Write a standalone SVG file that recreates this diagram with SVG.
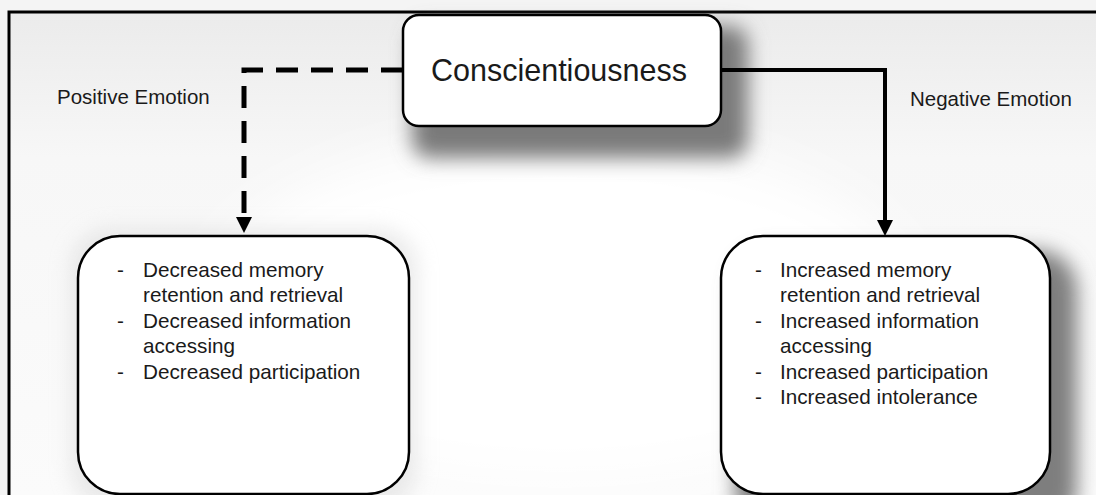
<svg xmlns="http://www.w3.org/2000/svg" width="1096" height="495" viewBox="0 0 1096 495">
  <defs>
    <style>
      .t { font-family: "Liberation Sans", Arial, sans-serif; fill: #1a1a1a; }
      .lbl { font-size: 20.5px; }
      .item { font-size: 20.7px; }
      .box { fill: #ffffff; stroke: #000000; stroke-width: 2.5; }
      .conn { fill: none; stroke: #000000; }
    </style>
    <filter id="blur10" x="-30%" y="-30%" width="160%" height="160%">
      <feGaussianBlur stdDeviation="10"/>
    </filter>
    <filter id="blur25" x="-50%" y="-50%" width="200%" height="200%">
      <feGaussianBlur stdDeviation="25"/>
    </filter>
    <linearGradient id="bg" x1="0" y1="0" x2="0" y2="1">
      <stop offset="0" stop-color="#ebebeb"/>
      <stop offset="0.3" stop-color="#f7f7f7"/>
      <stop offset="1" stop-color="#fbfbfb"/>
    </linearGradient>
  </defs>

  <!-- background -->
  <rect x="0" y="0" width="1096" height="495" fill="#f4f4f4"/>
  <g id="frame">
    <rect x="9" y="12" width="1087" height="483" fill="url(#bg)"/>
    <ellipse cx="560" cy="310" rx="360" ry="170" fill="#ffffff" filter="url(#blur25)"/>
    <path d="M9,495 V12 H1096" fill="none" stroke="#000000" stroke-width="3"/>
  </g>

  <!-- shadows -->
  <g id="shadows">
    <rect x="412" y="26" width="336" height="132" rx="18" fill="#7a7a7a" filter="url(#blur10)"/>
    <rect x="735" y="250" width="342" height="280" rx="40" fill="#7e7e7e" filter="url(#blur10)"/>
    <rect x="70" y="228" width="348" height="280" rx="40" fill="#d8d8d8" opacity="0.5" filter="url(#blur10)"/>
  </g>

  <!-- connectors -->
  <g id="connectors">
    <path class="conn" d="M403,70 H244 V224" stroke-width="5" stroke-dasharray="22 13"/>
    <polygon points="236,217 252,217 244,233" fill="#000000"/>
    <path class="conn" d="M721,70 H885 V224" stroke-width="4"/>
    <polygon points="877,220 893,220 885,236" fill="#000000"/>
  </g>

  <!-- edge labels -->
  <g id="label-positive">
    <text class="t lbl" x="57" y="104">Positive Emotion</text>
  </g>
  <g id="label-negative">
    <text class="t lbl" x="910" y="106">Negative Emotion</text>
  </g>

  <!-- center node -->
  <g id="node-conscientiousness">
    <rect class="box" x="403" y="15" width="318" height="111" rx="16"/>
    <text class="t" x="559" y="81" font-size="30.5" text-anchor="middle">Conscientiousness</text>
  </g>

  <!-- left node -->
  <g id="node-positive-outcomes">
    <rect class="box" x="78" y="236" width="331" height="258" rx="42"/>
    <text class="t item" x="117" y="277">-</text>
    <text class="t item" x="143" y="277">Decreased memory</text>
    <text class="t item" x="143" y="302">retention and retrieval</text>
    <text class="t item" x="117" y="328">-</text>
    <text class="t item" x="143" y="328">Decreased information</text>
    <text class="t item" x="143" y="353">accessing</text>
    <text class="t item" x="117" y="379">-</text>
    <text class="t item" x="143" y="379">Decreased participation</text>
  </g>

  <!-- right node -->
  <g id="node-negative-outcomes">
    <rect class="box" x="721" y="236" width="329" height="258" rx="42"/>
    <text class="t item" x="755" y="277">-</text>
    <text class="t item" x="780" y="277">Increased memory</text>
    <text class="t item" x="780" y="302">retention and retrieval</text>
    <text class="t item" x="755" y="328">-</text>
    <text class="t item" x="780" y="328">Increased information</text>
    <text class="t item" x="780" y="353">accessing</text>
    <text class="t item" x="755" y="379">-</text>
    <text class="t item" x="780" y="379">Increased participation</text>
    <text class="t item" x="755" y="404">-</text>
    <text class="t item" x="780" y="404">Increased intolerance</text>
  </g>
</svg>
